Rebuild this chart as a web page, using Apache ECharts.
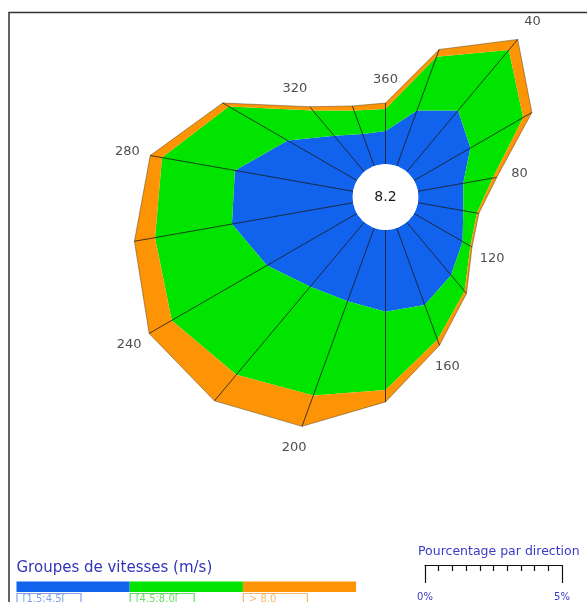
<!DOCTYPE html>
<html>
<head>
<meta charset="utf-8">
<script src="https://cdn.jsdelivr.net/npm/echarts@6/dist/echarts.min.js"></script>
<style>
  html, body { margin: 0; padding: 0; background: #fff; }
  #rose { width: 587px; height: 602px; }
</style>
</head>
<body>
<div id="rose"></div>
<script>
// directions in degrees, 360 = north, clockwise
var directions = [360, 20, 40, 60, 80, 100, 120, 140, 160, 180, 200, 220, 240, 260, 280, 300, 320, 340];
// percentage of time per direction, one array per speed group
var speedLow = [1.21, 2.17, 2.94, 2.39, 1.69, 1.69, 2.06, 2.54, 3.01, 3.01, 2.87, 3.09, 3.82, 4.52, 4.41, 2.94, 1.73, 1.25];
var speedMid = [0.81, 2.10, 2.90, 2.24, 1.10, 0.51, 0.33, 0.77, 1.36, 2.87, 3.68, 4.23, 4.04, 2.87, 2.72, 2.50, 1.21, 0.92];
var speedHigh = [0.22, 0.29, 0.51, 0.37, 0.15, 0.07, 0.07, 0.11, 0.22, 0.44, 1.21, 1.25, 0.96, 0.77, 0.44, 0.26, 0.18, 0.18];
var speedGroups = ["[1.5;4.5[", "[4.5;8.0[", "> 8.0"];
var calm = 8.2;
var scaleRange = [0, 5]; // % shown on the scale bar

var colors = ["#1162ec", "#00e400", "#fc9406"];
var labelColors = ["#7fa2ea", "#66dd66", "#f6b870"];
var center = [385.5, 197];
var pxPerPct = 27.2;
var holePct = 33 / pxPerPct;
var maxPct = 11;

var totals = directions.map(function (d, i) {
  return speedLow[i] + speedMid[i] + speedHigh[i];
});

// closed ring of points [radius, angle]
function ring(values) {
  var pts = directions.map(function (d, i) { return [values[i], d]; });
  pts.push(pts[0].slice());
  return pts;
}

function areaSeries(values, color, edge) {
  return {
    type: "line",
    coordinateSystem: "polar",
    stack: "rose",
    data: ring(values),
    symbol: "none",
    silent: true,
    lineStyle: edge ? { color: "#3a2a10", width: 0.6, opacity: 0.7 } : { width: 0, opacity: 0 },
    areaStyle: { color: color, opacity: 1 }
  };
}

var myChart = echarts.init(document.getElementById("rose"));

var graphics = [
  // frame
  { type: "rect", shape: { x: 9, y: 12.5, width: 700, height: 700 },
    style: { fill: null, stroke: "#333", lineWidth: 1.5 }, z: 100 },
  // calm hole
  { type: "circle", shape: { cx: center[0], cy: center[1], r: holePct * pxPerPct },
    style: { fill: "#fff" }, z: 100 },
  { type: "text", x: center[0], y: center[1],
    style: { text: String(calm), font: "14px 'DejaVu Sans'", fill: "#1a1a1a",
      align: "center", verticalAlign: "middle", textAlign: "center", textVerticalAlign: "middle" }, z: 101 },
  // legend title
  { type: "text", x: 16.5, y: 561,
    style: { text: "Groupes de vitesses (m/s)", font: "15px 'DejaVu Sans'", fill: "#3434b8" }, z: 100 },
  // scale title
  { type: "text", x: 418, y: 545,
    style: { text: "Pourcentage par direction", font: "12.5px 'DejaVu Sans'", fill: "#3a3ac8" }, z: 100 }
];

var barW = 113.2;
speedGroups.forEach(function (g, i) {
  var x = 16.5 + i * barW;
  graphics.push({ type: "rect", shape: { x: x, y: 581.5, width: barW, height: 10.5 },
    style: { fill: colors[i] }, z: 100 });
  graphics.push({ type: "rect", shape: { x: x + 0.5, y: 593.5, width: 64, height: 14 },
    style: { fill: null, stroke: labelColors[i], lineWidth: 1.2 }, z: 100 });
  graphics.push({ type: "text", x: x + 6, y: 594,
    style: { text: g, font: "10px 'DejaVu Sans'", fill: labelColors[i] }, z: 100 });
});

var option = {
  animation: false,
  backgroundColor: "#fff",
  polar: { center: center, radius: (maxPct + holePct) * pxPerPct },
  angleAxis: { type: "value", min: 0, max: 360, startAngle: 90, clockwise: true, show: false },
  radiusAxis: { type: "value", min: -holePct, max: maxPct, show: false },
  grid: { left: 425, top: 556, width: 137, height: 10.5 },
  xAxis: {
    type: "value",
    min: scaleRange[0],
    max: scaleRange[1],
    interval: 5,
    axisLine: { show: true, lineStyle: { color: "#111", width: 1.2 } },
    axisTick: { show: true, length: 18, lineStyle: { color: "#111", width: 1.2 } },
    minorTick: { show: true, splitNumber: 10, length: 6, lineStyle: { color: "#111", width: 1.2 } },
    splitLine: { show: false },
    axisLabel: { formatter: "{value}%", margin: 27, fontSize: 10, color: "#3a3ac8", fontFamily: "DejaVu Sans" }
  },
  yAxis: { type: "value", show: false },
  series: [
    areaSeries(speedLow, colors[0], false),
    areaSeries(speedMid, colors[1], false),
    areaSeries(speedHigh, colors[2], true),
    {
      // spokes from the calm circle to the outer point
      type: "custom",
      coordinateSystem: "polar",
      silent: true,
      z: 5,
      data: directions.map(function (d, i) { return [totals[i], d]; }),
      renderItem: function (params, api) {
        var a = api.value(1);
        var p0 = api.coord([0, a]);
        var p1 = api.coord([api.value(0), a]);
        return {
          type: "line",
          shape: { x1: p0[0], y1: p0[1], x2: p1[0], y2: p1[1] },
          style: { stroke: "#1a1a1a", lineWidth: 0.8 }
        };
      }
    },
    {
      // direction labels every 40 degrees, just outside the rose
      type: "scatter",
      coordinateSystem: "polar",
      silent: true,
      symbolSize: 1,
      itemStyle: { color: "rgba(0,0,0,0)" },
      data: directions.map(function (d, i) { return [totals[i] + 0.85, d]; })
        .filter(function (p, i) { return i % 2 === 0; }),
      label: {
        show: true,
        position: "inside",
        formatter: function (p) { return p.value[1]; },
        color: "#222",
        fontSize: 13,
        fontFamily: "DejaVu Sans"
      }
    }
  ],
  graphic: graphics
};

myChart.setOption(option);
</script>
</body>
</html>
